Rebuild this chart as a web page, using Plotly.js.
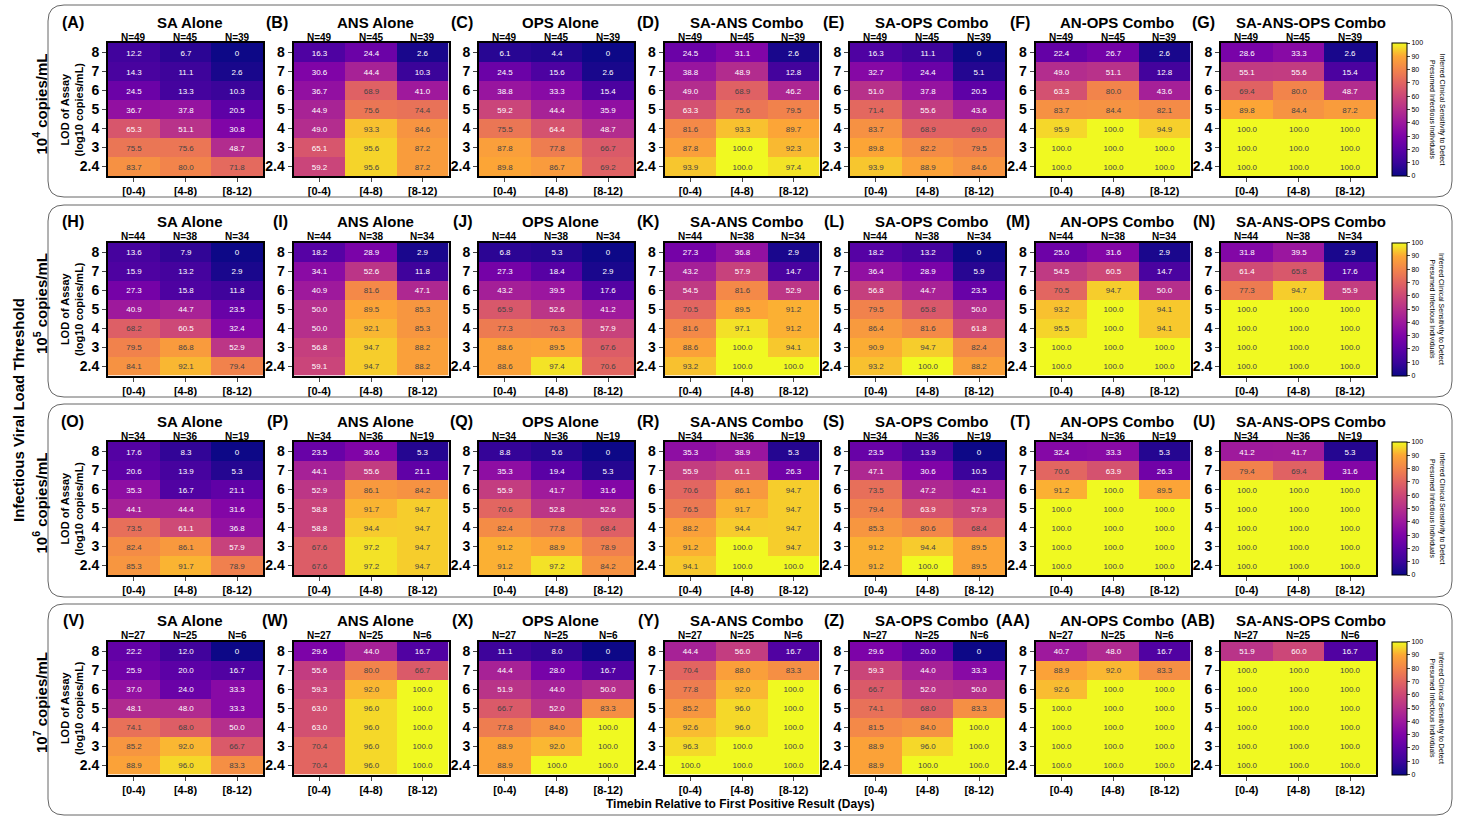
<!DOCTYPE html>
<html>
<head>
<meta charset="utf-8">
<script src="https://cdn.plot.ly/plotly-3.0.1.min.js"></script>
<style>body{margin:0;background:#fff}#chart{width:1463px;height:817px}</style>
</head>
<body>
<div id="chart"></div>
<script>
var timebins = ['[0-4)', '[4-8)', '[8-12)'];
var lods = ['8', '7', '6', '5', '4', '3', '2.4'];
var methods = ['SA Alone', 'ANS Alone', 'OPS Alone', 'SA-ANS Combo', 'SA-OPS Combo', 'AN-OPS Combo', 'SA-ANS-OPS Combo'];
var letters = ['A','B','C','D','E','F','G','H','I','J','K','L','M','N','O','P','Q','R','S','T','U','V','W','X','Y','Z','AA','AB'];
var thresholds = ['10<sup>4</sup> copies/mL', '10<sup>5</sup> copies/mL', '10<sup>6</sup> copies/mL', '10<sup>7</sup> copies/mL'];
var counts = [[49, 45, 39], [44, 38, 34], [34, 36, 19], [27, 25, 6]];

// sensitivity (%) per threshold row, per method, rows top (LOD 8) to bottom (LOD 2.4)
var row1e4 = [
  [[12.2,6.7,0],[14.3,11.1,2.6],[24.5,13.3,10.3],[36.7,37.8,20.5],[65.3,51.1,30.8],[75.5,75.6,48.7],[83.7,80.0,71.8]],
  [[16.3,24.4,2.6],[30.6,44.4,10.3],[36.7,68.9,41.0],[44.9,75.6,74.4],[49.0,93.3,84.6],[65.1,95.6,87.2],[59.2,95.6,87.2]],
  [[6.1,4.4,0],[24.5,15.6,2.6],[38.8,33.3,15.4],[59.2,44.4,35.9],[75.5,64.4,48.7],[87.8,77.8,66.7],[89.8,86.7,69.2]],
  [[24.5,31.1,2.6],[38.8,48.9,12.8],[49.0,68.9,46.2],[63.3,75.6,79.5],[81.6,93.3,89.7],[87.8,100.0,92.3],[93.9,100.0,97.4]],
  [[16.3,11.1,0],[32.7,24.4,5.1],[51.0,37.8,20.5],[71.4,55.6,43.6],[83.7,68.9,69.0],[89.8,82.2,79.5],[93.9,88.9,84.6]],
  [[22.4,26.7,2.6],[49.0,51.1,12.8],[63.3,80.0,43.6],[83.7,84.4,82.1],[95.9,100.0,94.9],[100.0,100.0,100.0],[100.0,100.0,100.0]],
  [[28.6,33.3,2.6],[55.1,55.6,15.4],[69.4,80.0,48.7],[89.8,84.4,87.2],[100.0,100.0,100.0],[100.0,100.0,100.0],[100.0,100.0,100.0]]
];
var row1e5 = [
  [[13.6,7.9,0],[15.9,13.2,2.9],[27.3,15.8,11.8],[40.9,44.7,23.5],[68.2,60.5,32.4],[79.5,86.8,52.9],[84.1,92.1,79.4]],
  [[18.2,28.9,2.9],[34.1,52.6,11.8],[40.9,81.6,47.1],[50.0,89.5,85.3],[50.0,92.1,85.3],[56.8,94.7,88.2],[59.1,94.7,88.2]],
  [[6.8,5.3,0],[27.3,18.4,2.9],[43.2,39.5,17.6],[65.9,52.6,41.2],[77.3,76.3,57.9],[88.6,89.5,67.6],[88.6,97.4,70.6]],
  [[27.3,36.8,2.9],[43.2,57.9,14.7],[54.5,81.6,52.9],[70.5,89.5,91.2],[81.6,97.1,91.2],[88.6,100.0,94.1],[93.2,100.0,100.0]],
  [[18.2,13.2,0],[36.4,28.9,5.9],[56.8,44.7,23.5],[79.5,65.8,50.0],[86.4,81.6,61.8],[90.9,94.7,82.4],[93.2,100.0,88.2]],
  [[25.0,31.6,2.9],[54.5,60.5,14.7],[70.5,94.7,50.0],[93.2,100.0,94.1],[95.5,100.0,94.1],[100.0,100.0,100.0],[100.0,100.0,100.0]],
  [[31.8,39.5,2.9],[61.4,65.8,17.6],[77.3,94.7,55.9],[100.0,100.0,100.0],[100.0,100.0,100.0],[100.0,100.0,100.0],[100.0,100.0,100.0]]
];
var row1e6 = [
  [[17.6,8.3,0],[20.6,13.9,5.3],[35.3,16.7,21.1],[44.1,44.4,31.6],[73.5,61.1,36.8],[82.4,86.1,57.9],[85.3,91.7,78.9]],
  [[23.5,30.6,5.3],[44.1,55.6,21.1],[52.9,86.1,84.2],[58.8,91.7,94.7],[58.8,94.4,94.7],[67.6,97.2,94.7],[67.6,97.2,94.7]],
  [[8.8,5.6,0],[35.3,19.4,5.3],[55.9,41.7,31.6],[70.6,52.8,52.6],[82.4,77.8,68.4],[91.2,88.9,78.9],[91.2,97.2,84.2]],
  [[35.3,38.9,5.3],[55.9,61.1,26.3],[70.6,86.1,94.7],[76.5,91.7,94.7],[88.2,94.4,94.7],[91.2,100.0,94.7],[94.1,100.0,100.0]],
  [[23.5,13.9,0],[47.1,30.6,10.5],[73.5,47.2,42.1],[79.4,63.9,57.9],[85.3,80.6,68.4],[91.2,94.4,89.5],[91.2,100.0,89.5]],
  [[32.4,33.3,5.3],[70.6,63.9,26.3],[91.2,100.0,89.5],[100.0,100.0,100.0],[100.0,100.0,100.0],[100.0,100.0,100.0],[100.0,100.0,100.0]],
  [[41.2,41.7,5.3],[79.4,69.4,31.6],[100.0,100.0,100.0],[100.0,100.0,100.0],[100.0,100.0,100.0],[100.0,100.0,100.0],[100.0,100.0,100.0]]
];
var row1e7 = [
  [[22.2,12.0,0],[25.9,20.0,16.7],[37.0,24.0,33.3],[48.1,48.0,33.3],[74.1,68.0,50.0],[85.2,92.0,66.7],[88.9,96.0,83.3]],
  [[29.6,44.0,16.7],[55.6,80.0,66.7],[59.3,92.0,100.0],[63.0,96.0,100.0],[63.0,96.0,100.0],[70.4,96.0,100.0],[70.4,96.0,100.0]],
  [[11.1,8.0,0],[44.4,28.0,16.7],[51.9,44.0,50.0],[66.7,52.0,83.3],[77.8,84.0,100.0],[88.9,92.0,100.0],[88.9,100.0,100.0]],
  [[44.4,56.0,16.7],[70.4,88.0,83.3],[77.8,92.0,100.0],[85.2,96.0,100.0],[92.6,96.0,100.0],[96.3,100.0,100.0],[100.0,100.0,100.0]],
  [[29.6,20.0,0],[59.3,44.0,33.3],[66.7,52.0,50.0],[74.1,68.0,83.3],[81.5,84.0,100.0],[88.9,96.0,100.0],[88.9,100.0,100.0]],
  [[40.7,48.0,16.7],[88.9,92.0,83.3],[92.6,100.0,100.0],[100.0,100.0,100.0],[100.0,100.0,100.0],[100.0,100.0,100.0],[100.0,100.0,100.0]],
  [[51.9,60.0,16.7],[100.0,100.0,100.0],[100.0,100.0,100.0],[100.0,100.0,100.0],[100.0,100.0,100.0],[100.0,100.0,100.0],[100.0,100.0,100.0]]
];
var allRows = [row1e4, row1e5, row1e6, row1e7];

// plasma-like scale as in the figure
var plasma = [
  [0, '#0d0887'], [0.1, '#3a049a'], [0.2, '#5c01a6'], [0.3, '#7e03a8'], [0.4, '#9c179e'],
  [0.5, '#b52f8c'], [0.6, '#cc4778'], [0.7, '#e16462'], [0.8, '#f2844b'], [0.9, '#fca636'], [1, '#f0f921']
];

var W = 1463, H = 817;
var font = 'Liberation Sans, Arial, sans-serif';
function px(x) { return x / W; }
function py(y) { return 1 - y / H; }
function note(x, y, text, size, extra) {
  var a = {xref: 'paper', yref: 'paper', x: px(x), y: py(y), xanchor: 'center', yanchor: 'middle',
    text: text, showarrow: false, font: {size: size, family: font}};
  for (var key in (extra || {})) a[key] = extra[key];
  layout.annotations.push(a);
}

var data = [];
var layout = {
  width: W, height: H, margin: {l: 0, r: 0, t: 0, b: 0},
  paper_bgcolor: '#fff', plot_bgcolor: '#fff',
  font: {family: font, color: '#000'},
  showlegend: false, annotations: [], shapes: []
};

// rounded boxes around each threshold row
var boxes = [[5, 197], [205, 397], [404, 597], [604, 815]];
boxes.forEach(function (b) {
  var x0 = 48, x1 = 1452, y0 = b[0], y1 = b[1], r = 16;
  var p = 'M' + px(x0 + r) + ',' + py(y0) + ' L' + px(x1 - r) + ',' + py(y0) +
    ' Q' + px(x1) + ',' + py(y0) + ' ' + px(x1) + ',' + py(y0 + r) +
    ' L' + px(x1) + ',' + py(y1 - r) + ' Q' + px(x1) + ',' + py(y1) + ' ' + px(x1 - r) + ',' + py(y1) +
    ' L' + px(x0 + r) + ',' + py(y1) + ' Q' + px(x0) + ',' + py(y1) + ' ' + px(x0) + ',' + py(y1 - r) +
    ' L' + px(x0) + ',' + py(y0 + r) + ' Q' + px(x0) + ',' + py(y0) + ' ' + px(x0 + r) + ',' + py(y0) + ' Z';
  layout.shapes.push({type: 'path', xref: 'paper', yref: 'paper', path: p, line: {color: '#666', width: 1}});
});

for (var r = 0; r < 4; r++) {
  var pTop = 43 + r * 199.5, pBot = pTop + 133;
  for (var i = 0; i < 7; i++) {
    var k = r * 7 + i + 1;
    var sfx = k === 1 ? '' : String(k);
    var x0 = 108 + i * 185.5, x1 = x0 + 155;
    var z = allRows[r][i];
    var txt = z.map(function (row) { return row.map(function (v) { return v === 0 ? '0' : v.toFixed(1); }); });
    var trace = {
      type: 'heatmap', x: timebins, y: lods, z: z, text: txt, texttemplate: '%{text}',
      textfont: {size: 8, family: font},
      zmin: 0, zmax: 100, colorscale: plasma, hoverinfo: 'skip',
      xaxis: 'x' + sfx, yaxis: 'y' + sfx,
      showscale: i === 6
    };
    if (i === 6) {
      trace.colorbar = {
        x: px(1392), xanchor: 'left', xpad: 0, ypad: 0, y: py((pTop + pBot) / 2), yanchor: 'middle',
        len: 133 / H, lenmode: 'fraction', thickness: 15,
        tickvals: [0,10,20,30,40,50,60,70,80,90,100], tickfont: {size: 7, family: font},
        ticks: 'outside', ticklen: 3, outlinewidth: 1, outlinecolor: '#000'
      };
    }
    data.push(trace);
    layout['xaxis' + sfx] = {
      domain: [px(x0), px(x1)], anchor: 'y' + sfx, showline: true, mirror: true, linewidth: 2, linecolor: '#000',
      ticks: 'outside', ticklen: 4, tickfont: {size: 11, family: font}, fixedrange: true, showgrid: false,
      type: 'category', range: [-0.5, 2.5],
      tickvals: timebins, ticktext: timebins.map(function (t) { return '<b>' + t + '</b>'; })
    };
    layout['yaxis' + sfx] = {
      domain: [py(pBot), py(pTop)], anchor: 'x' + sfx, showline: true, mirror: true, linewidth: 2, linecolor: '#000',
      ticks: 'outside', ticklen: 4, tickfont: {size: 14, family: font}, showgrid: false,
      type: 'category', range: [6.5, -0.5],
      tickvals: lods, ticktext: lods.map(function (t) { return '<b>' + t + '</b>'; }), fixedrange: true
    };

    // title and panel letter
    var shift = i === 6 ? 12 : 4;
    note((x0 + x1) / 2 + shift, pTop - 21, '<b>' + methods[i] + '</b>', 15);
    note(i === 0 ? x0 - 22 : x0 - 4, pTop - 21, '<b>(' + letters[k - 1] + ')</b>', 16, {xanchor: 'right'});
    for (var c = 0; c < 3; c++) {
      note(x0 + 155 * (c + 0.5) / 3, pTop - 6, '<b>N=' + counts[r][c] + '</b>', 10);
    }
  }
  // y-axis title, threshold label, colourbar title
  note(72, (pTop + pBot) / 2, '<b>LOD of Assay<br>(log10 copies/mL)</b>', 11, {textangle: -90});
  note(40, (pTop + pBot) / 2 - 5, '<b>' + thresholds[r] + '</b>', 15, {textangle: -90});
  note(1437, (pTop + pBot) / 2, 'Inferred Clinical Sensitivity to Detect<br>Presumed Infectious Individuals', 7, {textangle: 90});
}

note(18, 410, '<b>Infectious Viral Load Threshold</b>', 15, {textangle: -90});
note(740, 804, '<b>Timebin Relative to First Positive Result (Days)</b>', 12);

Plotly.newPlot('chart', data, layout, {displayModeBar: false, staticPlot: true});
</script>
</body>
</html>
